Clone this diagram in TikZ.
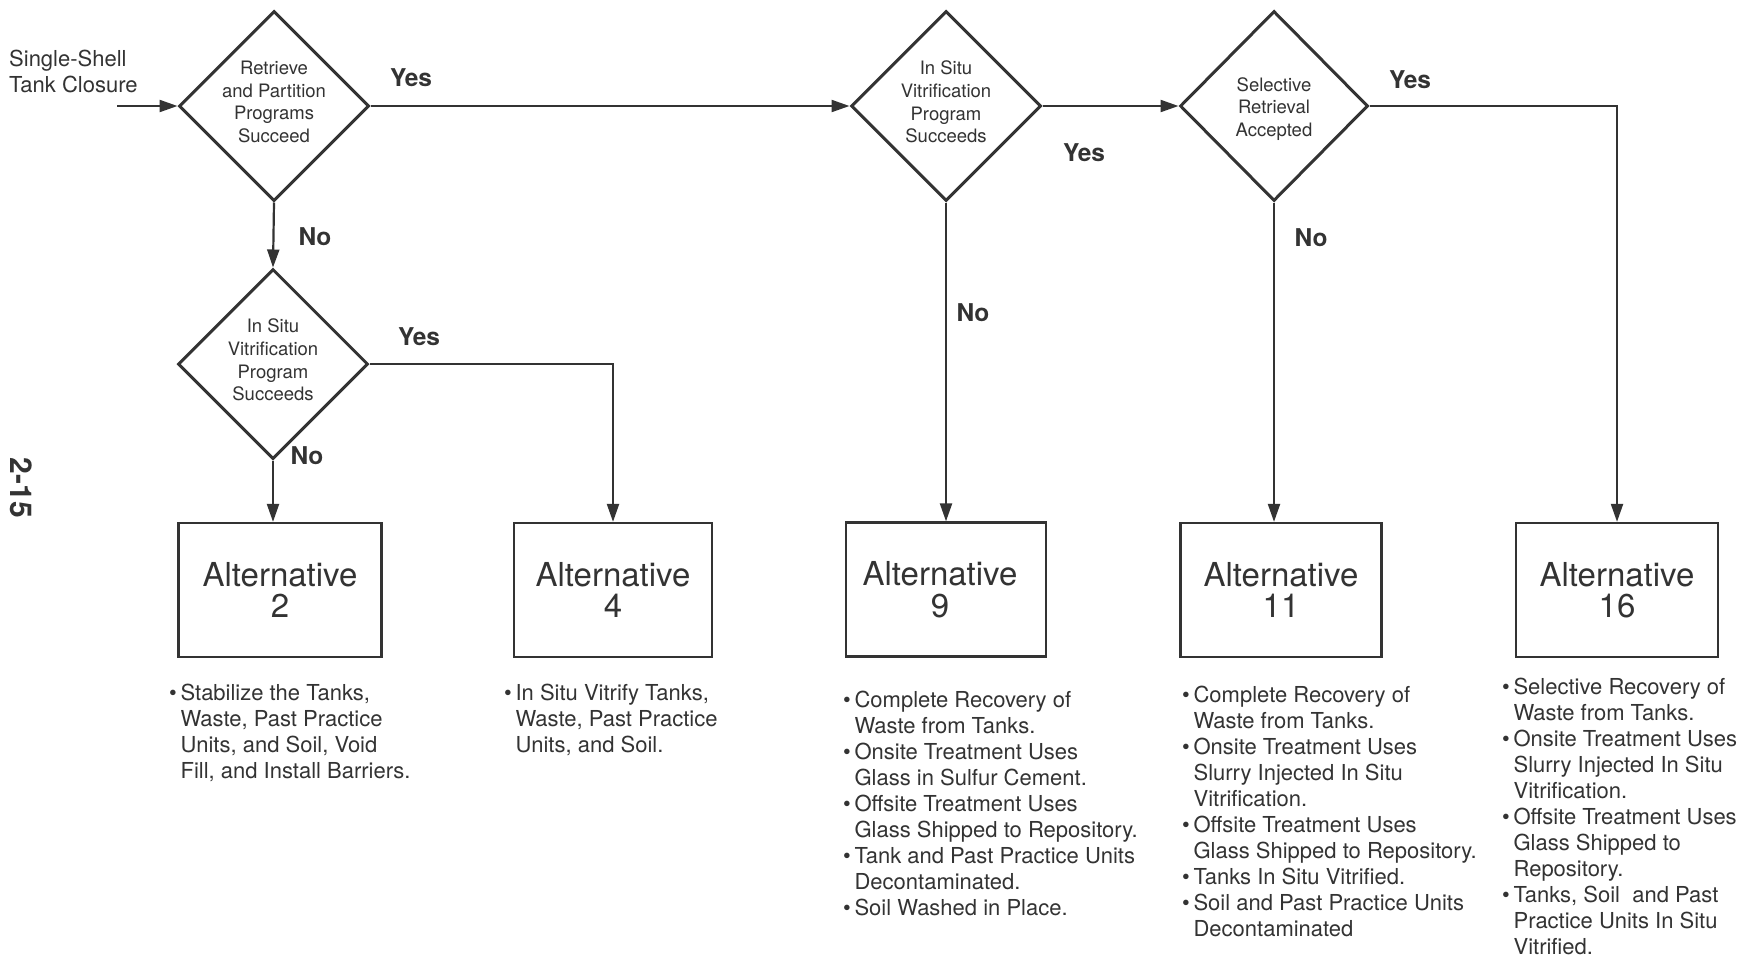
\documentclass[tikz,border=0pt]{standalone}
\usepackage{fontspec}
\setmainfont{TeX Gyre Heros}
\usetikzlibrary{shapes.geometric,arrows.meta}
\begin{document}
\begin{tikzpicture}[x=1pt,y=-1pt,
  dia/.style={draw=black!80, line width=3pt, shape=diamond, minimum width=190pt, minimum height=190pt, inner sep=0pt},
  dtext/.style={align=center, text=black!80, font=\fontsize{18.5}{22.7}\selectfont, inner sep=0pt},
  altbox/.style={draw=black!80, line width=2.3pt, minimum width=200pt, minimum height=134pt, align=center, font=\fontsize{33}{31.5}\selectfont, text=black!80},
  ans/.style={font=\fontsize{24.5}{28}\selectfont\bfseries, text=black!80, inner sep=0pt},
  blist/.style={anchor=base west, inner sep=0pt, font=\fontsize{22}{26}\selectfont, text=black!80},
  flow/.style={draw=black!80, line width=2.2pt, -{Triangle[length=18pt,width=12pt]}},
]
\useasboundingbox (0,0) rectangle (1752,967);
\fill[white] (0,0) rectangle (1752,967);

% start label and entry arrow
\node[anchor=west, align=left, inner sep=0pt, text=black!80, font=\fontsize{22}{26.8}\selectfont] (start) at (9,71.5) {Single-Shell\\Tank Closure};
\coordinate (in) at (117,106);

% decision diamonds
\node[dia] (d1) at (274,106) {};
\node[dtext] (d1t) at (274,102) {Retrieve\\and Partition\\Programs\\Succeed};
\node[dia] (d2) at (273,364) {};
\node[dtext] (d2t) at (273,360) {In Situ\\Vitrification\\Program\\Succeeds};
\node[dia] (d3) at (946,106) {};
\node[dtext] (d3t) at (946,102) {In Situ\\Vitrification\\Program\\Succeeds};
\node[dia, minimum width=188pt] (d4) at (1274,106) {};
\node[dtext] (d4t) at (1274,109) {Selective\\Retrieval\\Accepted};

% alternatives
\node[altbox, minimum width=203pt] (a2) at (280,590) {Alternative\\2};
\node[altbox, minimum width=198pt] (a4) at (613,590) {Alternative\\4};
\node[altbox] (a9) at (946,589.5) {Alternative\hspace*{12pt}\\9\hspace*{12pt}};
\node[altbox, minimum width=201pt] (a11) at (1281,590) {Alternative\\11};
\node[altbox, minimum width=202pt] (a16) at (1617,590) {Alternative\\16};

% connectors
\draw[flow] (in) -- (d1.west);
\draw[flow] (d1.east) -- (d3.west);
\draw[flow] (d1.south) -- (d2.north);
\draw[flow] (d2.south) -- (d2.south |- a2.north);
\draw[flow] (d2.east) -| (a4.north);
\draw[flow] (d3.east) -- (d4.west);
\draw[flow] (d3.south) -- (d3.south |- a9.north);
\draw[flow] (d4.south) -- (d4.south |- a11.north);
\draw[flow] (d4.east) -| (a16.north);

% branch answers
\node[ans] (y1) at (411,78) {Yes};
\node[ans] (y2) at (1084,153) {Yes};
\node[ans] (y3) at (1410,80) {Yes};
\node[ans] (y4) at (419,337) {Yes};
\node[ans] (n1) at (315,237) {No};
\node[ans] (n2) at (307,456) {No};
\node[ans] (n3) at (973,313) {No};
\node[ans] (n4) at (1311,238) {No};

% descriptions
\node[blist] (l2) at (169,700) {\begin{tabular}[t]{@{}l@{\,}l@{}}
\textbullet & Stabilize the Tanks,\\
 & Waste, Past Practice\\
 & Units, and Soil, Void\\
 & Fill, and Install Barriers.
\end{tabular}};
\node[blist] (l4) at (504,700) {\begin{tabular}[t]{@{}l@{\,}l@{}}
\textbullet & In Situ Vitrify Tanks,\\
 & Waste, Past Practice\\
 & Units, and Soil.
\end{tabular}};
\node[blist] (l9) at (843,707) {\begin{tabular}[t]{@{}l@{\,}l@{}}
\textbullet & Complete Recovery of\\
 & Waste from Tanks.\\
\textbullet & Onsite Treatment Uses\\
 & Glass in Sulfur Cement.\\
\textbullet & Offsite Treatment Uses\\
 & Glass Shipped to Repository.\\
\textbullet & Tank and Past Practice Units\\
 & Decontaminated.\\
\textbullet & Soil Washed in Place.
\end{tabular}};
\node[blist] (l11) at (1182,702) {\begin{tabular}[t]{@{}l@{\,}l@{}}
\textbullet & Complete Recovery of\\
 & Waste from Tanks.\\
\textbullet & Onsite Treatment Uses\\
 & Slurry Injected In Situ\\
 & Vitrification.\\
\textbullet & Offsite Treatment Uses\\
 & Glass Shipped to Repository.\\
\textbullet & Tanks In Situ Vitrified.\\
\textbullet & Soil and Past Practice Units\\
 & Decontaminated
\end{tabular}};
\node[blist] (l16) at (1502,694) {\begin{tabular}[t]{@{}l@{\,}l@{}}
\textbullet & Selective Recovery of\\
 & Waste from Tanks.\\
\textbullet & Onsite Treatment Uses\\
 & Slurry Injected In Situ\\
 & Vitrification.\\
\textbullet & Offsite Treatment Uses\\
 & Glass Shipped to\\
 & Repository.\\
\textbullet & Tanks, Soil\ \ and Past\\
 & Practice Units In Situ\\
 & Vitrified.
\end{tabular}};

% page number
\node[rotate=-90, inner sep=0pt, text=black!80, font=\fontsize{30}{30}\selectfont\bfseries] (pg) at (21,488) {2-15};
\end{tikzpicture}
\end{document}
